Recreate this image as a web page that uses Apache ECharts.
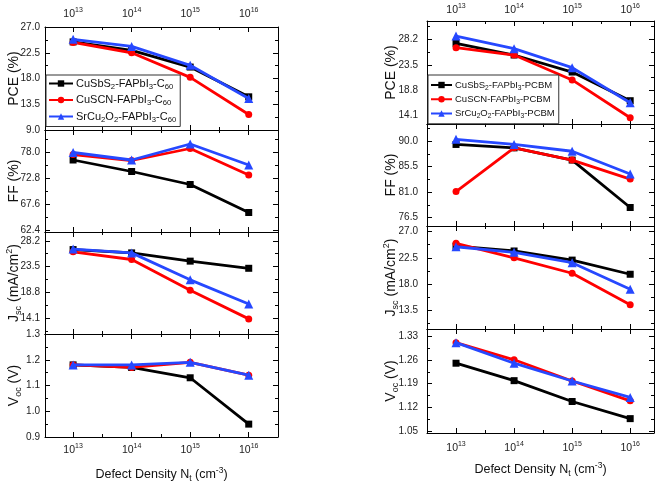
<!DOCTYPE html>
<html><head><meta charset="utf-8">
<script src="https://cdn.jsdelivr.net/npm/echarts@6/dist/echarts.min.js"></script>
<style>html,body{margin:0;padding:0;background:#fff}#c{width:661px;height:483px}</style>
</head><body><div id="c"></div>
<script>
// ---------- data ----------
const exponents = [13, 14, 15, 16];          // defect density = 10^exponent (cm^-3)
const xTickLabels = [13, 14, 15, 16];

const namesC60 = ['CuSbS2-FAPbI3-C60', 'CuSCN-FAPbI3-C60', 'SrCu2O2-FAPbI3-C60'];
const namesPCBM = ['CuSbS2-FAPbI3-PCBM', 'CuSCN-FAPbI3-PCBM', 'SrCu2O2-FAPbI3-PCBM'];

// C60 panel
const pceC60_CuSbS2 = [24.4, 22.9, 20.0, 14.8];
const pceC60_CuSCN = [24.3, 22.5, 18.2, 11.7];
const pceC60_SrCu2O2 = [24.85, 23.6, 20.3, 14.5];
const ffC60_CuSbS2 = [76.5, 74.2, 71.6, 66.0];
const ffC60_CuSCN = [77.6, 76.4, 78.8, 73.5];
const ffC60_SrCu2O2 = [78.0, 76.5, 79.7, 75.5];
const jscC60_CuSbS2 = [26.6, 26.0, 24.5, 23.2];
const jscC60_CuSCN = [26.2, 24.8, 19.2, 14.0];
const jscC60_SrCu2O2 = [26.7, 26.0, 21.1, 16.7];
const vocC60_CuSbS2 = [1.18, 1.17, 1.13, 0.95];
const vocC60_CuSCN = [1.18, 1.17, 1.19, 1.14];
const vocC60_SrCu2O2 = [1.18, 1.18, 1.19, 1.14];

// PCBM panel
const pcePCBM_CuSbS2 = [27.46, 25.3, 22.16, 16.87];
const pcePCBM_CuSCN = [26.65, 25.3, 20.7, 13.73];
const pcePCBM_SrCu2O2 = [28.8, 26.47, 22.96, 16.5];
const ffPCBM_CuSbS2 = [89.4, 88.8, 86.65, 78.3];
const ffPCBM_CuSCN = [81.1, 88.8, 86.65, 83.3];
const ffPCBM_SrCu2O2 = [90.3, 89.4, 88.2, 84.2];
const jscPCBM_CuSbS2 = [24.5, 23.67, 22.1, 19.66];
const jscPCBM_CuSCN = [25.0, 22.5, 19.83, 14.4];
const jscPCBM_SrCu2O2 = [24.4, 23.45, 21.66, 17.07];
const vocPCBM_CuSbS2 = [1.25, 1.199, 1.138, 1.088];
const vocPCBM_CuSCN = [1.31, 1.26, 1.198, 1.14];
const vocPCBM_SrCu2O2 = [1.31, 1.25, 1.198, 1.15];

// y tick labels
const yTicksC60_PCE = [9.0, 13.5, 18.0, 22.5, 27.0];
const yTicksC60_FF = [62.4, 67.6, 72.8, 78.0];
const yTicksC60_Jsc = [14.1, 18.8, 23.5, 28.2];
const yTicksC60_Voc = [0.9, 1.0, 1.1, 1.2, 1.3];
const yTicksPCBM_PCE = [14.1, 18.8, 23.5, 28.2];
const yTicksPCBM_FF = [76.5, 81.0, 85.5, 90.0];
const yTicksPCBM_Jsc = [13.5, 18.0, 22.5, 27.0];
const yTicksPCBM_Voc = [1.05, 1.12, 1.19, 1.26, 1.33];

// ---------- layout / style ----------
const FONT = 'Liberation Sans';
const colors = ['#000000', '#ff0000', '#2648ff'];
const symbols = ['rect', 'circle', 'triangle'];
const symbolSizes = [7, 7, 9];

const yNames = [
  '{n|PCE (%)}',
  '{n|FF (%)}',
  '{n|J}{sub|sc}{n| (mA/cm}{sup|2}{n|)}',
  '{n|V}{sub|oc}{n| (V)}'
];
const nameRich = {
  n: {fontSize: 14, fontFamily: FONT, color: '#111', lineHeight: 18},
  sub: {fontSize: 9, fontFamily: FONT, color: '#111', verticalAlign: 'bottom'},
  sup: {fontSize: 9, fontFamily: FONT, color: '#111', verticalAlign: 'top'}
};

const panels = [
  {
    names: namesC60, left: 45, width: 233, bounds: [27, 130, 232, 334, 437], xRange: [12.52, 16.5],
    yLabelMargin: 5, yNameGap: 22, topLabelMargin: 5, bottomLabelMargin: 6, xNameGap: 29,
    legend: {left: 46, top: 75, fontSize: 11, itemGap: 4, itemWidth: 24, padding: [3, 4, 3, 2]},
    plots: [
      {ticks: yTicksC60_PCE, dec: 1, range: [9, 27], data: [pceC60_CuSbS2, pceC60_CuSCN, pceC60_SrCu2O2]},
      {ticks: yTicksC60_FF, dec: 1, range: [62.1, 82.5], data: [ffC60_CuSbS2, ffC60_CuSCN, ffC60_SrCu2O2]},
      {ticks: yTicksC60_Jsc, dec: 1, range: [11.25, 29.8], data: [jscC60_CuSbS2, jscC60_CuSCN, jscC60_SrCu2O2]},
      {ticks: yTicksC60_Voc, dec: 1, range: [0.9, 1.3], data: [vocC60_CuSbS2, vocC60_CuSCN, vocC60_SrCu2O2]}
    ]
  },
  {
    names: namesPCBM, left: 427, width: 227, bounds: [21, 124, 226, 329, 433], xRange: [12.5, 16.41],
    yLabelMargin: 9, yNameGap: 27, topLabelMargin: 3, bottomLabelMargin: 8, xNameGap: 28,
    legend: {left: 428, top: 75, fontSize: 9.5, itemGap: 3, itemWidth: 21, padding: [5, 4, 4, 2]},
    plots: [
      {ticks: yTicksPCBM_PCE, dec: 1, range: [12.57, 31.58], data: [pcePCBM_CuSbS2, pcePCBM_CuSCN, pcePCBM_SrCu2O2]},
      {ticks: yTicksPCBM_FF, dec: 1, range: [75.04, 93.0], data: [ffPCBM_CuSbS2, ffPCBM_CuSCN, ffPCBM_SrCu2O2]},
      {ticks: yTicksPCBM_Jsc, dec: 1, range: [10.22, 27.98], data: [jscPCBM_CuSbS2, jscPCBM_CuSCN, jscPCBM_SrCu2O2]},
      {ticks: yTicksPCBM_Voc, dec: 2, range: [1.046, 1.35], data: [vocPCBM_CuSbS2, vocPCBM_CuSCN, vocPCBM_SrCu2O2]}
    ]
  }
];

// ---------- helpers ----------
function tickSets(labels, range) {
  const step = labels[1] - labels[0];
  const major = [], minor = [];
  const eps = 1e-9;
  for (let i = -1; i <= labels.length; i++) {
    const v = +(labels[0] + i * step).toFixed(6);
    if (v >= range[0] - eps && v <= range[1] + eps) major.push(v);
    const m = +(v + step / 2).toFixed(6);
    if (m > range[0] + eps && m < range[1] - eps) minor.push(m);
  }
  return {major, minor};
}
function richName(name) {
  let s = '{n|' + name.replace(/(\d+)/g, '}{sub|$1}{n|') + '}';
  return s.replace(/\{n\|\}/g, '');
}
const xLabelRich = {
  b: {fontSize: 10.5, fontFamily: FONT, color: '#222', lineHeight: 15},
  s: {fontSize: 7, fontFamily: FONT, color: '#222', verticalAlign: 'top'}
};

const grids = [], xAxes = [], yAxes = [], series = [], legends = [];

panels.forEach((p, pi) => {
  const xt = tickSets(xTickLabels, p.xRange);
  p.plots.forEach((pl, k) => {
    const gi = grids.length;
    const top = p.bounds[k], h = p.bounds[k + 1] - p.bounds[k];
    grids.push({left: p.left, top: top, width: p.width, height: h, outerBoundsMode: 'none', containLabel: false});
    const yt = tickSets(pl.ticks, pl.range);

    const xBase = {type: 'value', gridIndex: gi, min: p.xRange[0], max: p.xRange[1], splitLine: {show: false}, silent: true};
    const mainX = xAxes.length;
    ['bottom', 'top'].forEach(pos => {
      const showLabels = (pos === 'bottom' && k === 3) || (pos === 'top' && k === 0);
      const ax = Object.assign({}, xBase, {
        position: pos,
        axisLine: {show: true, onZero: false, lineStyle: {color: '#000', width: 1}},
        axisTick: {show: true, inside: true, length: 5, customValues: xt.major, lineStyle: {color: '#000', width: 1}},
        axisLabel: {
          show: showLabels, customValues: xTickLabels,
          margin: pos === 'bottom' ? p.bottomLabelMargin : p.topLabelMargin,
          formatter: v => '{b|10}{s|' + Math.round(v) + '}', rich: xLabelRich
        }
      });
      if (pos === 'bottom' && k === 3) {
        ax.name = '{n|Defect Density N}{sub|t}{n| (cm}{sup|-3}{n|)}';
        ax.nameLocation = 'middle';
        ax.nameGap = p.xNameGap;
        ax.nameMoveOverlap = false;
        ax.nameTextStyle = {rich: {
          n: {fontSize: 12.5, fontFamily: FONT, color: '#111', lineHeight: 17},
          sub: {fontSize: 8.5, fontFamily: FONT, color: '#111', verticalAlign: 'bottom'},
          sup: {fontSize: 8.5, fontFamily: FONT, color: '#111', verticalAlign: 'top'}
        }};
      }
      xAxes.push(ax);
      xAxes.push(Object.assign({}, xBase, {
        position: pos,
        axisLine: {show: false, onZero: false},
        axisTick: {show: true, inside: true, length: 3, customValues: xt.minor, lineStyle: {color: '#000', width: 1}},
        axisLabel: {show: false}
      }));
    });

    const yBase = {type: 'value', gridIndex: gi, min: pl.range[0], max: pl.range[1], splitLine: {show: false}, silent: true};
    const mainY = yAxes.length;
    ['left', 'right'].forEach(pos => {
      const ax = Object.assign({}, yBase, {
        position: pos,
        axisLine: {show: true, onZero: false, lineStyle: {color: '#000', width: 1}},
        axisTick: {show: true, inside: true, length: 5, customValues: yt.major, lineStyle: {color: '#000', width: 1}},
        axisLabel: {
          show: pos === 'left', customValues: pl.ticks, margin: p.yLabelMargin,
          fontSize: 10, fontFamily: FONT, color: '#222',
          formatter: v => v.toFixed(pl.dec)
        }
      });
      if (pos === 'left') {
        ax.name = yNames[k];
        ax.nameLocation = 'middle';
        ax.nameGap = p.yNameGap;
        ax.nameMoveOverlap = false;
        ax.nameTextStyle = {rich: nameRich};
      }
      yAxes.push(ax);
      yAxes.push(Object.assign({}, yBase, {
        position: pos,
        axisLine: {show: false, onZero: false},
        axisTick: {show: true, inside: true, length: 3, customValues: yt.minor, lineStyle: {color: '#000', width: 1}},
        axisLabel: {show: false}
      }));
    });

    pl.data.forEach((vals, si) => {
      series.push({
        type: 'line', name: p.names[si], xAxisIndex: mainX, yAxisIndex: mainY,
        data: exponents.map((e, i) => [e, vals[i]]),
        symbol: symbols[si], symbolSize: symbolSizes[si], showSymbol: true,
        lineStyle: {color: colors[si], width: 2.8},
        itemStyle: {color: colors[si]},
        z: 2 + si, silent: true, animation: false
      });
    });
  });

  const lg = p.legend;
  legends.push({
    data: p.names, orient: 'vertical', left: lg.left, top: lg.top,
    itemWidth: lg.itemWidth, itemHeight: 8, itemGap: lg.itemGap,
    padding: lg.padding, borderColor: '#333', borderWidth: 1, borderRadius: 0,
    backgroundColor: '#fff', selectedMode: false,
    formatter: richName,
    textStyle: {
      padding: [0, 0, 0, -2],
      rich: {
        n: {fontSize: lg.fontSize, fontFamily: FONT, color: '#111', lineHeight: lg.fontSize + 3},
        sub: {fontSize: lg.fontSize * 0.7, fontFamily: FONT, color: '#111', verticalAlign: 'bottom'}
      }
    }
  });
});

const chart = echarts.init(document.getElementById('c'), null, {renderer: 'canvas'});
chart.setOption({
  backgroundColor: '#ffffff',
  animation: false,
  grid: grids, xAxis: xAxes, yAxis: yAxes, series: series, legend: legends
});
</script></body></html>
